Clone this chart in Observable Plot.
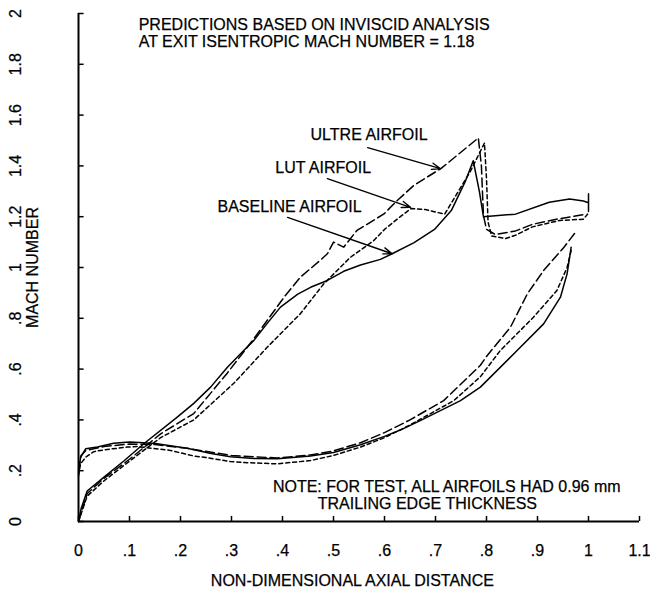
<!DOCTYPE html>
<html>
<head>
<meta charset="utf-8">
<script src="https://cdn.jsdelivr.net/npm/d3@7"></script>
<script src="https://cdn.jsdelivr.net/npm/@observablehq/plot@0.6"></script>
<style>
  html, body { margin: 0; padding: 0; background: #fff; }
  #chart svg { font-family: "Liberation Sans", Arial, sans-serif; }
</style>
</head>
<body>
<div id="chart"></div>
<script>
// ---- data ----
const xTicks = [0, 0.1, 0.2, 0.3, 0.4, 0.5, 0.6, 0.7, 0.8, 0.9, 1.0, 1.1];
const xTickLabels = ["0", ".1", ".2", ".3", ".4", ".5", ".6", ".7", ".8", ".9", "1", "1.1"];
const yTicks = [0, 0.2, 0.4, 0.6, 0.8, 1.0, 1.2, 1.4, 1.6, 1.8, 2.0];
const yTickLabels = ["0", ".2", ".4", ".6", ".8", "1", "1.2", "1.4", "1.6", "1.8", "2"];

// Baseline airfoil (solid)
const baselineSuction = [
  [0,0],[0.005,0.05],[0.017,0.12],[0.05,0.175],[0.09,0.24],[0.128,0.306],[0.193,0.41],
  [0.226,0.465],[0.259,0.529],[0.292,0.607],[0.324,0.673],[0.344,0.713],[0.37,0.78],
  [0.396,0.844],[0.43,0.895],[0.455,0.922],[0.488,0.949],[0.52,0.985],[0.553,1.01],
  [0.592,1.032],[0.615,1.054],[0.658,1.098],[0.698,1.15],[0.731,1.224],[0.758,1.337],
  [0.774,1.42],[0.786,1.3],[0.794,1.2],[0.857,1.21],[0.923,1.257],[0.963,1.27],
  [0.99,1.262],[1.0,1.255],[1.0,1.29],[1.0,1.22]
];
const baselinePressure = [
  [0,0.19],[0.004,0.253],[0.014,0.286],[0.037,0.293],[0.069,0.308],[0.1,0.313],
  [0.128,0.31],[0.154,0.306],[0.213,0.288],[0.26,0.268],[0.298,0.255],[0.344,0.248],
  [0.39,0.247],[0.455,0.258],[0.5,0.272],[0.553,0.302],[0.6,0.335],[0.631,0.36],
  [0.671,0.398],[0.749,0.476],[0.788,0.529],[0.86,0.673],[0.912,0.778],[0.945,0.883],
  [0.958,0.975],[0.966,1.08]
];

// LUT airfoil (short dashes)
const lutSuction = [
  [0,0],[0.017,0.1],[0.05,0.16],[0.095,0.23],[0.161,0.33],[0.226,0.4],[0.305,0.545],
  [0.37,0.686],[0.435,0.818],[0.481,0.936],[0.533,1.04],[0.579,1.106],[0.6,1.15],
  [0.631,1.2],[0.652,1.232],[0.68,1.228],[0.718,1.21],[0.744,1.297],[0.768,1.377],
  [0.796,1.49],[0.8,1.35],[0.803,1.18],[0.81,1.124],[0.837,1.114],[0.857,1.127],
  [0.89,1.16],[0.943,1.185],[0.99,1.19],[0.998,1.21]
];
const lutPressure = [
  [0,0.18],[0.004,0.227],[0.014,0.253],[0.03,0.275],[0.05,0.282],[0.095,0.293],
  [0.115,0.295],[0.18,0.28],[0.226,0.258],[0.246,0.253],[0.298,0.236],[0.324,0.232],
  [0.39,0.227],[0.455,0.24],[0.5,0.26],[0.553,0.293],[0.6,0.33],[0.65,0.38],
  [0.736,0.476],[0.788,0.57],[0.827,0.673],[0.892,0.804],[0.938,0.909],[0.958,1.0],
  [0.966,1.067]
];

// ULTRE airfoil (long dashes)
const ultreSuction = [
  [0,0],[0.017,0.11],[0.05,0.17],[0.1,0.245],[0.161,0.345],[0.226,0.425],[0.292,0.585],
  [0.344,0.72],[0.403,0.883],[0.435,0.962],[0.475,1.03],[0.488,1.054],[0.5,1.1],
  [0.52,1.08],[0.546,1.146],[0.599,1.211],[0.625,1.264],[0.658,1.324],[0.711,1.39],
  [0.784,1.51],[0.79,1.4],[0.794,1.205],[0.8,1.15],[0.817,1.13],[0.857,1.144],
  [0.89,1.17],[0.937,1.19],[0.996,1.21]
];
const ultrePressure = [
  [0,0.2],[0.005,0.26],[0.015,0.28],[0.05,0.295],[0.1,0.305],[0.15,0.303],[0.213,0.288],
  [0.3,0.26],[0.39,0.25],[0.455,0.262],[0.5,0.278],[0.553,0.31],[0.6,0.35],[0.65,0.4],
  [0.716,0.476],[0.788,0.615],[0.8,0.65],[0.847,0.765],[0.88,0.896],[0.912,0.988],
  [0.952,1.08],[0.975,1.14]
];

// annotations
const curveLabels = [
  {text: "ULTRE AIRFOIL", x: 0.455, y: 1.524},
  {text: "LUT AIRFOIL", x: 0.386, y: 1.394},
  {text: "BASELINE AIRFOIL", x: 0.2725, y: 1.24}
];
const labelArrows = [
  {x1: 0.567, y1: 1.472, x2: 0.71, y2: 1.389},
  {x1: 0.488, y1: 1.35, x2: 0.651, y2: 1.237},
  {x1: 0.41, y1: 1.197, x2: 0.615, y2: 1.054}
];
const headerLines = [
  {text: "PREDICTIONS BASED ON INVISCID ANALYSIS", x: 0.118, y: 1.955},
  {text: "AT EXIT ISENTROPIC MACH NUMBER = 1.18", x: 0.118, y: 1.888}
];
const noteLines = [
  {text: "NOTE: FOR TEST, ALL AIRFOILS HAD 0.96 mm", x: 0.722, y: 0.138},
  {text: "TRAILING EDGE THICKNESS", x: 0.684, y: 0.07}
];

const toXY = a => a.map(([x, y]) => ({x, y}));
const lineStyle = (dash) => ({x: "x", y: "y", stroke: "#000", strokeWidth: 1.5,
  strokeDasharray: dash, curve: "linear"});
const txt = {fontSize: 16, fill: "#000", stroke: "#000", strokeWidth: 0.25};

const plot = Plot.plot({
  width: 650,
  height: 594,
  marginLeft: 78,
  marginRight: 11,
  marginTop: 13,
  marginBottom: 73,
  x: {type: "linear", domain: [0, 1.1], axis: null},
  y: {type: "linear", domain: [0, 2], axis: null},
  style: {fontSize: "16px", color: "#000", background: "#fff"},
  marks: [
    // axes
    Plot.ruleX([0], {y1: 0, y2: 2, stroke: "#000", strokeWidth: 2}),
    Plot.ruleY([0], {x1: 0, x2: 1.1, stroke: "#000", strokeWidth: 2}),
    Plot.ruleY(yTicks, {y: d => d, x1: 0, x2: 0.011, stroke: "#000", strokeWidth: 1.5}),
    Plot.ruleX(xTicks, {x: d => d, y1: 0, y2: 0.02, stroke: "#000", strokeWidth: 1.5}),
    Plot.text(yTicks, {x: 0, y: d => d, text: (d, i) => yTickLabels[i], rotate: -90,
      dx: -63, ...txt}),
    Plot.text(xTicks, {x: d => d, y: 0, text: (d, i) => xTickLabels[i], dy: 29, ...txt}),
    Plot.text(["NON-DIMENSIONAL AXIAL DISTANCE"], {x: 0.537, y: 0, dy: 59, text: d => d, ...txt}),
    Plot.text(["MACH NUMBER"], {x: 0, y: 1.0, dx: -46, rotate: -90, text: d => d, ...txt}),
    // curves
    Plot.line(toXY(baselineSuction), lineStyle(null)),
    Plot.line(toXY(baselinePressure), lineStyle(null)),
    Plot.line(toXY(lutSuction), lineStyle("4,3")),
    Plot.line(toXY(lutPressure), lineStyle("4,3")),
    Plot.line(toXY(ultreSuction), lineStyle("9,4")),
    Plot.line(toXY(ultrePressure), lineStyle("9,4")),
    // annotations
    Plot.arrow(labelArrows, {x1: "x1", y1: "y1", x2: "x2", y2: "y2", stroke: "#000",
      strokeWidth: 1.4, headLength: 10, headAngle: 40}),
    Plot.text(curveLabels, {x: "x", y: "y", text: "text", textAnchor: "start", ...txt}),
    Plot.text(headerLines, {x: "x", y: "y", text: "text", textAnchor: "start", ...txt}),
    Plot.text(noteLines, {x: "x", y: "y", text: "text", textAnchor: "middle", ...txt})
  ]
});
document.getElementById("chart").appendChild(plot);
</script>
</body>
</html>
